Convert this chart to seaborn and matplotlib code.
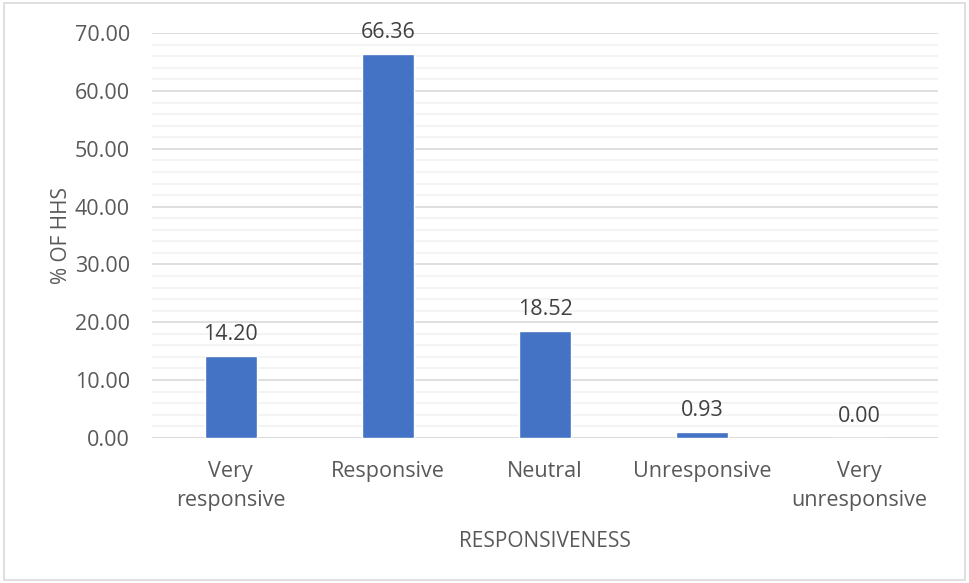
import numpy as np
import pandas as pd
import seaborn as sns
import matplotlib.pyplot as plt
from matplotlib.ticker import MultipleLocator
from matplotlib.patches import Rectangle

categories = ['Very\nresponsive', 'Responsive', 'Neutral', 'Unresponsive', 'Very\nunresponsive']
pct_hhs = [14.20, 66.36, 18.52, 0.93, 0.00]

df = pd.DataFrame({'responsiveness': categories, 'pct': pct_hhs})

sns.set_theme(style='white')
plt.rcParams['font.family'] = ['Open Sans', 'DejaVu Sans']

fig = plt.figure(figsize=(9.69, 5.83), dpi=100)
ax = fig.add_axes([0.157, 0.249, 0.811, 0.694])

sns.barplot(data=df, x='responsiveness', y='pct', color='#4472C4', width=0.33,
            saturation=1, ax=ax, zorder=3)

ax.set_ylim(0, 70)
ax.yaxis.set_major_locator(MultipleLocator(10))
ax.yaxis.set_minor_locator(MultipleLocator(2))
ax.yaxis.set_major_formatter(plt.FuncFormatter(lambda v, p: f'{v:.2f}'))
ax.grid(axis='y', which='major', color='#d9d9d9', linewidth=1.2, zorder=0)
ax.grid(axis='y', which='minor', color='#f2f2f2', linewidth=1.2, zorder=0)
ax.set_axisbelow(True)
for s in ax.spines.values():
    s.set_visible(False)
ax.axhline(0, color='#d9d9d9', linewidth=1.2, zorder=2)

ax.tick_params(axis='both', which='both', length=0, labelsize=15.5, colors='#595959')
ax.tick_params(axis='y', pad=16)
ax.tick_params(axis='x', pad=17)
for lbl in ax.get_xticklabels():
    lbl.set_linespacing(1.5)
ax.set_xlim(-0.5, 4.5)

ax.set_xlabel('RESPONSIVENESS', fontsize=15, color='#595959', labelpad=14)
ax.set_ylabel('% OF HHS', fontsize=15, color='#595959', labelpad=2)

for i, v in enumerate(pct_hhs):
    ax.text(i, v + 1.9, f'{v:.2f}', ha='center', va='bottom', fontsize=15.5, color='#404040')

fig.patches.append(Rectangle((0.004, 0.005), 0.992, 0.99, transform=fig.transFigure,
                             fill=False, edgecolor='#d9d9d9', linewidth=1.2))

fig.savefig('out.png', dpi=100, facecolor='white')
